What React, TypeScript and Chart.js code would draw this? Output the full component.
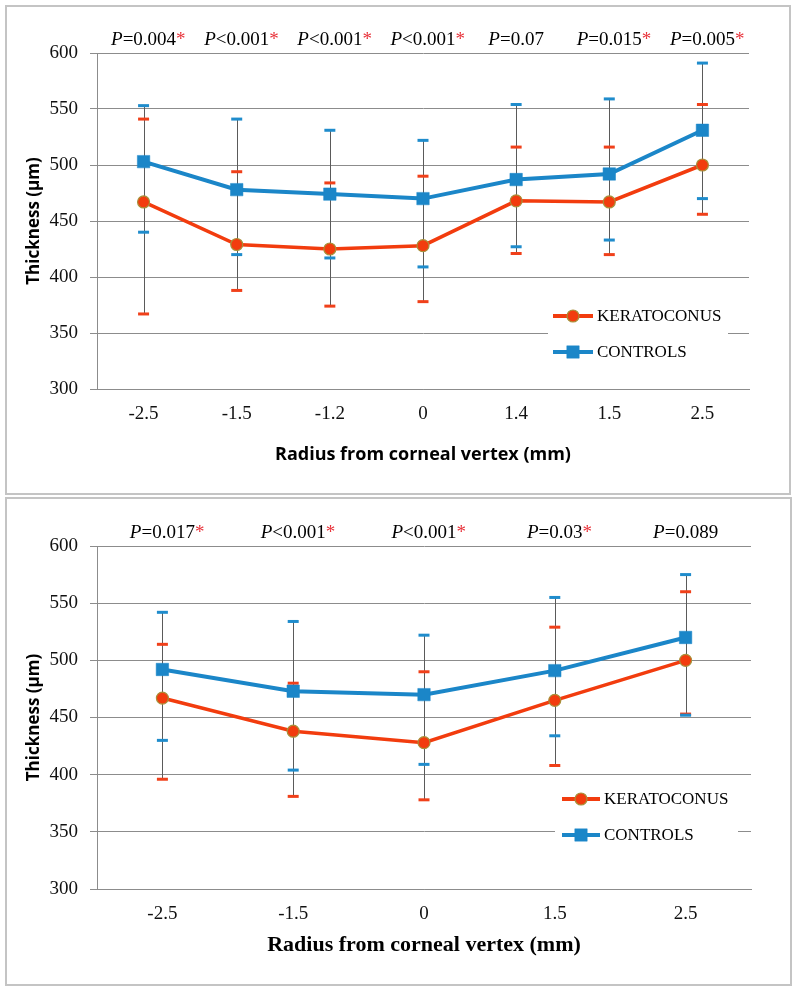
import React, { useEffect, useRef } from "react";
import { Chart, registerables } from "chart.js";
Chart.register(...registerables);

// ---------- DATA ----------
const topCategories = ["-2.5", "-1.5", "-1.2", "0", "1.4", "1.5", "2.5"];
const topKerMean = [467, 429, 425, 428, 468, 467, 500];
const topKerUpper = [541, 494, 484, 490, 516, 516, 554];
const topKerLower = [367, 388, 374, 378, 421, 420, 456];
const topConMean = [503, 478, 474, 470, 487, 492, 531];
const topConUpper = [553, 541, 531, 522, 554, 559, 591];
const topConLower = [440, 420, 417, 409, 427, 433, 470];
const topPSign = ["=", "<", "<", "<", "=", "=", "="];
const topPValue = ["0.004", "0.001", "0.001", "0.001", "0.07", "0.015", "0.005"];
const topPSig = [true, true, true, true, false, true, true];

const botCategories = ["-2.5", "-1.5", "0", "1.5", "2.5"];
const botKerMean = [467, 438, 428, 465, 500];
const botKerUpper = [514, 480, 490, 529, 560];
const botKerLower = [396, 381, 378, 408, 453];
const botConMean = [492, 473, 470, 491, 520];
const botConUpper = [542, 534, 522, 555, 575];
const botConLower = [430, 404, 409, 434, 452];
const botPSign = ["=", "<", "<", "=", "="];
const botPValue = ["0.017", "0.001", "0.001", "0.03", "0.089"];
const botPSig = [true, true, true, true, false];

const yTicks = [300, 350, 400, 450, 500, 550, 600];
const seriesLabels = ["KERATOCONUS", "CONTROLS"];
const yTitle = "Thickness (µm)";
const xTitle = "Radius from corneal vertex (mm)";

// ---------- STYLE ----------
const RED = "#f23c0e";
const RED_BORDER = "#a8913a";
const BLUE = "#1b86c8";
const GRID = "#8c8c8c";
const SERIF = "'Liberation Serif', 'Times New Roman', serif";
const SANS = "'Open Sans', 'DejaVu Sans', sans-serif";

const errorBarPlugin = {
  id: "errorBars",
  beforeDatasetsDraw(chart: any) {
    const ctx = chart.ctx;
    const y = chart.scales.y;
    chart.data.datasets.forEach((ds: any, di: number) => {
      const meta = chart.getDatasetMeta(di);
      ds.data.forEach((_v: number, i: number) => {
        const x = meta.data[i].x;
        const yu = y.getPixelForValue(ds.errUpper[i]);
        const yl = y.getPixelForValue(ds.errLower[i]);
        ctx.save();
        ctx.strokeStyle = "#5a5a5a";
        ctx.lineWidth = 1;
        ctx.beginPath();
        ctx.moveTo(Math.round(x) + 0.5, yu);
        ctx.lineTo(Math.round(x) + 0.5, yl);
        ctx.stroke();
        ctx.restore();
      });
    });
    chart.data.datasets.forEach((ds: any, di: number) => {
      const meta = chart.getDatasetMeta(di);
      ds.data.forEach((_v: number, i: number) => {
        const x = meta.data[i].x;
        [ds.errUpper[i], ds.errLower[i]].forEach((v: number) => {
          const py = y.getPixelForValue(v);
          ctx.save();
          ctx.strokeStyle = ds.capColor;
          ctx.lineWidth = 3;
          ctx.beginPath();
          ctx.moveTo(x - 5.5, py);
          ctx.lineTo(x + 5.5, py);
          ctx.stroke();
          ctx.restore();
        });
      });
    });
  },
};

const pValuePlugin = {
  id: "pValues",
  afterDraw(chart: any, _args: any, opts: any) {
    const ctx = chart.ctx;
    const xs = chart.scales.x;
    const yPos = chart.chartArea.top - 13;
    ctx.save();
    ctx.textBaseline = "middle";
    ctx.textAlign = "left";
    opts.values.forEach((val: string, i: number) => {
      const cx = xs.getPixelForValue(i);
      const italic = "italic 19px " + SERIF;
      const normal = "19px " + SERIF;
      ctx.font = italic;
      const wP = ctx.measureText("P").width;
      ctx.font = normal;
      const rest = opts.signs[i] + val;
      const wR = ctx.measureText(rest).width;
      let x = cx - (wP + wR) / 2;
      ctx.fillStyle = "#000";
      ctx.font = italic;
      ctx.fillText("P", x, yPos);
      x += wP;
      ctx.font = normal;
      ctx.fillText(rest, x, yPos);
      x += wR;
      if (opts.sig[i]) {
        ctx.fillStyle = "#e8323a";
        ctx.fillText("*", x, yPos);
      }
    });
    ctx.restore();
  },
};

const legendPlugin = {
  id: "insideLegend",
  afterDraw(chart: any, _args: any, opts: any) {
    const ctx = chart.ctx;
    const { box, lineX0, lineX1, textX, rows } = opts;
    ctx.save();
    ctx.fillStyle = "#fff";
    ctx.fillRect(box[0], box[1], box[2], box[3]);
    chart.data.datasets.forEach((ds: any, i: number) => {
      const ry = rows[i];
      ctx.strokeStyle = ds.borderColor;
      ctx.lineWidth = 4;
      ctx.beginPath();
      ctx.moveTo(lineX0, ry);
      ctx.lineTo(lineX1, ry);
      ctx.stroke();
      const mx = (lineX0 + lineX1) / 2;
      ctx.fillStyle = ds.pointBackgroundColor;
      ctx.strokeStyle = ds.pointBorderColor;
      ctx.lineWidth = ds.pointBorderWidth;
      ctx.beginPath();
      if (ds.pointStyle === "rect") {
        const s = 6.2;
        ctx.rect(mx - s, ry - s, 2 * s, 2 * s);
      } else {
        ctx.arc(mx, ry, 6, 0, Math.PI * 2);
      }
      ctx.fill();
      ctx.stroke();
      ctx.fillStyle = "#000";
      ctx.font = "17px " + SERIF;
      ctx.textBaseline = "middle";
      ctx.textAlign = "left";
      ctx.fillText(ds.label, textX, ry + 1);
    });
    ctx.restore();
  },
};

type PanelProps = {
  left: number;
  top: number;
  width: number;
  height: number;
  categories: string[];
  kerMean: number[];
  kerUpper: number[];
  kerLower: number[];
  conMean: number[];
  conUpper: number[];
  conLower: number[];
  pSign: string[];
  pValue: string[];
  pSig: boolean[];
  padTop: number;
  padRight: number;
  xAxisHeight: number;
  xTitleFont: any;
  xTitlePadBottom: number;
  legend: any;
};

function Panel(p: PanelProps) {
  const ref = useRef<HTMLCanvasElement>(null);
  useEffect(() => {
    if (!ref.current) return;
    const chart = new Chart(ref.current, {
      type: "line",
      data: {
        labels: p.categories,
        datasets: [
          {
            label: seriesLabels[0],
            data: p.kerMean,
            borderColor: RED,
            borderWidth: 3.5,
            pointStyle: "circle",
            pointRadius: 6,
            pointBackgroundColor: RED,
            pointBorderColor: RED_BORDER,
            pointBorderWidth: 1.2,
            errUpper: p.kerUpper,
            errLower: p.kerLower,
            capColor: "#f0401a",
            tension: 0,
          } as any,
          {
            label: seriesLabels[1],
            data: p.conMean,
            borderColor: BLUE,
            borderWidth: 4,
            pointStyle: "rect",
            pointRadius: 8.8,
            pointBackgroundColor: BLUE,
            pointBorderColor: BLUE,
            pointBorderWidth: 0.5,
            errUpper: p.conUpper,
            errLower: p.conLower,
            capColor: "#1f8ccc",
            tension: 0,
          } as any,
        ],
      },
      options: {
        animation: false,
        responsive: false,
        maintainAspectRatio: false,
        layout: { padding: { left: 0, right: p.padRight, top: p.padTop, bottom: 0 } },
        plugins: {
          legend: { display: false },
          tooltip: { enabled: false },
          pValues: { signs: p.pSign, values: p.pValue, sig: p.pSig },
          insideLegend: p.legend,
        } as any,
        scales: {
          x: {
            type: "category",
            offset: true,
            grid: { display: false, drawTicks: false },
            border: { display: true, color: GRID, width: 1 },
            ticks: { color: "#111", font: { family: SERIF, size: 19 }, padding: 14, maxRotation: 0 },
            title: {
              display: true,
              text: xTitle,
              color: "#000",
              font: p.xTitleFont,
              padding: { top: 0, bottom: p.xTitlePadBottom },
            },
            afterFit: (s: any) => {
              s.height = p.xAxisHeight;
            },
          },
          y: {
            min: 300,
            max: 600,
            afterBuildTicks: (s: any) => {
              s.ticks = yTicks.map((v) => ({ value: v }));
            },
            grid: { color: GRID, lineWidth: 1, drawTicks: true, tickLength: 7 },
            border: { display: true, color: GRID, width: 1 },
            ticks: { color: "#111", font: { family: SERIF, size: 19 }, padding: 12 },
            title: {
              display: true,
              text: yTitle,
              color: "#000",
              font: { family: SANS, size: 17, weight: "bold" },
              padding: { top: 19, bottom: 0 },
            },
            afterFit: (s: any) => {
              s.width = 92;
            },
          },
        },
      } as any,
      plugins: [errorBarPlugin, pValuePlugin, legendPlugin],
    });
    return () => chart.destroy();
  }, []);
  return (
    <>
      <canvas
        ref={ref}
        width={p.width}
        height={p.height}
        style={{ position: "absolute", left: p.left, top: p.top, width: p.width, height: p.height }}
      />
      <div
        style={{
          position: "absolute",
          left: p.left,
          top: p.top,
          width: p.width,
          height: p.height,
          border: "2px solid #c4c4c4",
          boxSizing: "border-box",
          pointerEvents: "none",
        }}
      />
    </>
  );
}

export default function App() {
  return (
    <div style={{ position: "absolute", left: 0, top: 0, width: 798, height: 992, background: "#fff" }}>
      <Panel
        left={5}
        top={5}
        width={786}
        height={490}
        categories={topCategories}
        kerMean={topKerMean}
        kerUpper={topKerUpper}
        kerLower={topKerLower}
        conMean={topConMean}
        conUpper={topConUpper}
        conLower={topConLower}
        pSign={topPSign}
        pValue={topPValue}
        pSig={topPSig}
        padTop={48}
        padRight={42}
        xAxisHeight={106}
        xTitleFont={{ family: SANS, size: 18, weight: "bold" }}
        xTitlePadBottom={29}
        legend={{ box: [543, 293, 180, 72], lineX0: 548, lineX1: 588, textX: 592, rows: [311, 347] }}
      />
      <Panel
        left={5}
        top={497}
        width={787}
        height={489}
        categories={botCategories}
        kerMean={botKerMean}
        kerUpper={botKerUpper}
        kerLower={botKerLower}
        conMean={botConMean}
        conUpper={botConUpper}
        conLower={botConLower}
        pSign={botPSign}
        pValue={botPValue}
        pSig={botPSig}
        padTop={49}
        padRight={41}
        xAxisHeight={97}
        xTitleFont={{ family: SERIF, size: 22, weight: "bold" }}
        xTitlePadBottom={27}
        legend={{ box: [550, 283, 183, 75], lineX0: 557, lineX1: 595, textX: 599, rows: [302, 338] }}
      />
    </div>
  );
}
